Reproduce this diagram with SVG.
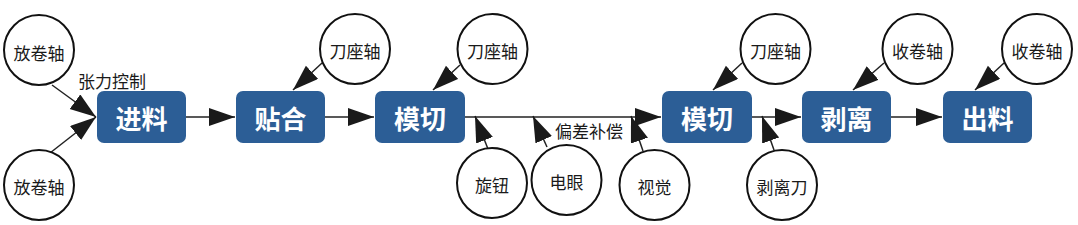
<svg xmlns="http://www.w3.org/2000/svg" width="1078" height="225" viewBox="0 0 1078 225">
<defs>
<style>
.box{fill:#2c5e96;}
.bt{fill:#fff;font-family:"Noto Sans CJK SC","Noto Sans",sans-serif;font-weight:bold;font-size:26px;text-anchor:middle;dominant-baseline:central;}
.c{fill:#fff;stroke:#111;stroke-width:2;}
.ct{fill:#1a1a1a;font-family:"Noto Sans CJK SC","Noto Sans",sans-serif;font-size:17px;text-anchor:middle;dominant-baseline:central;}
.lbl{fill:#1a1a1a;font-family:"Noto Sans CJK SC","Noto Sans",sans-serif;font-size:17px;text-anchor:middle;dominant-baseline:central;}
.e{stroke:#222;stroke-width:1.5;fill:none;marker-end:url(#ah);}
</style>
<marker id="ah" markerUnits="userSpaceOnUse" markerWidth="28" markerHeight="20" refX="26" refY="9" orient="auto">
<path d="M0,0 L26,9 L0,18 z" fill="#1a1a1a"/>
</marker>
</defs>
<g id="connectors">
<line class="e" x1="52" y1="85" x2="96" y2="117"/>
<line class="e" x1="50" y1="153" x2="96" y2="117"/>
<line class="e" x1="186" y1="117" x2="235" y2="117"/>
<line class="e" x1="322" y1="63" x2="293" y2="90"/>
<line class="e" x1="325" y1="117" x2="374" y2="117"/>
<line class="e" x1="460" y1="65" x2="433" y2="90"/>
<line class="e" x1="465" y1="117" x2="661" y2="117"/>
<line class="e" x1="488" y1="149" x2="475" y2="116"/>
<line class="e" x1="547" y1="147" x2="533" y2="116"/>
<line class="e" x1="643" y1="151" x2="631" y2="116"/>
<line class="e" x1="742" y1="63" x2="713" y2="90"/>
<line class="e" x1="752" y1="117" x2="801" y2="117"/>
<line class="e" x1="774" y1="150" x2="762" y2="116"/>
<line class="e" x1="884" y1="63" x2="853" y2="90"/>
<line class="e" x1="891" y1="117" x2="942" y2="117"/>
<line class="e" x1="1004" y1="63" x2="975" y2="90"/>
</g>
<g id="label-tension"><text class="lbl" x="112" y="80">张力控制</text></g>
<g id="label-offset"><text class="lbl" x="589" y="130">偏差补偿</text></g>
<g id="n-feed"><rect class="box" x="97" y="91" width="89" height="52" rx="7"/><text class="bt" x="141.5" y="117">进料</text></g>
<g id="n-laminate"><rect class="box" x="236" y="91" width="89" height="52" rx="7"/><text class="bt" x="280.5" y="117">贴合</text></g>
<g id="n-diecut1"><rect class="box" x="375" y="91" width="90" height="52" rx="7"/><text class="bt" x="420" y="117">模切</text></g>
<g id="n-diecut2"><rect class="box" x="662" y="91" width="90" height="52" rx="7"/><text class="bt" x="707" y="117">模切</text></g>
<g id="n-strip"><rect class="box" x="802" y="91" width="89" height="52" rx="7"/><text class="bt" x="846.5" y="117">剥离</text></g>
<g id="n-out"><rect class="box" x="943" y="91" width="89" height="52" rx="7"/><text class="bt" x="987.5" y="117">出料</text></g>
<g id="c-unwind1"><circle class="c" cx="39" cy="50" r="35"/><text class="ct" x="39" y="52">放卷轴</text></g>
<g id="c-unwind2"><circle class="c" cx="39" cy="185" r="35"/><text class="ct" x="39" y="186">放卷轴</text></g>
<g id="c-knife1"><circle class="c" cx="355" cy="49" r="35"/><text class="ct" x="355" y="50">刀座轴</text></g>
<g id="c-knife2"><circle class="c" cx="492.5" cy="49" r="35"/><text class="ct" x="492.5" y="50">刀座轴</text></g>
<g id="c-knife3"><circle class="c" cx="775.5" cy="49" r="35"/><text class="ct" x="775.5" y="50">刀座轴</text></g>
<g id="c-rewind1"><circle class="c" cx="917.5" cy="49" r="35"/><text class="ct" x="917.5" y="50">收卷轴</text></g>
<g id="c-rewind2"><circle class="c" cx="1037" cy="49" r="35"/><text class="ct" x="1037" y="50">收卷轴</text></g>
<g id="c-knob"><circle class="c" cx="492" cy="183" r="35"/><text class="ct" x="492" y="184">旋钮</text></g>
<g id="c-eye"><circle class="c" cx="566.5" cy="180" r="35"/><text class="ct" x="566.5" y="181">电眼</text></g>
<g id="c-vision"><circle class="c" cx="654.5" cy="185" r="35"/><text class="ct" x="654.5" y="186">视觉</text></g>
<g id="c-stripknife"><circle class="c" cx="782" cy="185" r="35"/><text class="ct" x="782" y="186">剥离刀</text></g>
</svg>
